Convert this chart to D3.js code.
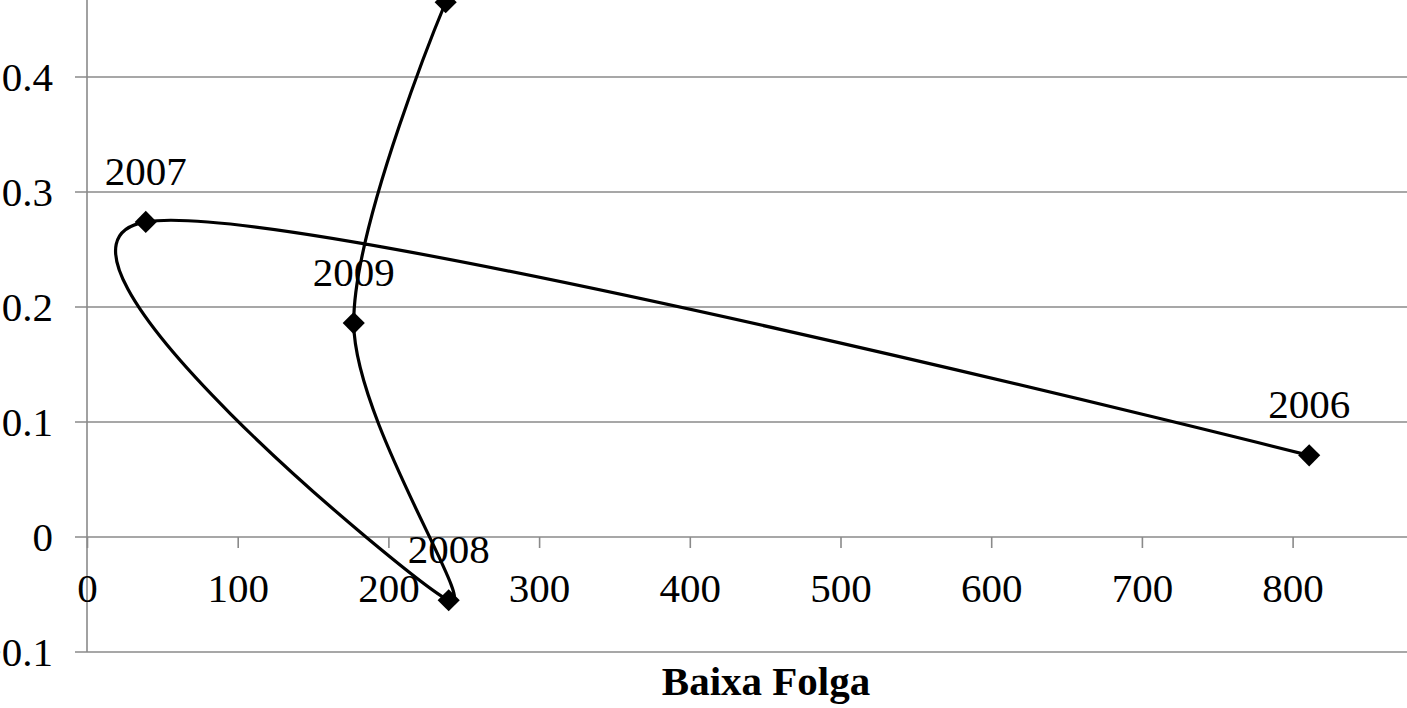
<!DOCTYPE html>
<head>
    <title>Baixa Folga</title>
    <script src="https://cdn.jsdelivr.net/npm/d3@7"></script>
    <style>
        body { margin: 0; background: #fff; }
        svg { display: block; }
    </style>
</head>
<body>

<div id="container"></div>

<script>

// Données
const years = ["2006", "2007", "2008", "2009", "2010"];
const folga = [811, 39, 240, 177, 238];
const valores = [0.071, 0.274, -0.055, 0.186, 0.465];
const yTicks = [-0.1, 0, 0.1, 0.2, 0.3, 0.4];
const xTicks = [0, 100, 200, 300, 400, 500, 600, 700, 800];

// Dimensions
const width = 1407;
const height = 708;
const axisX = 87;

const svg = d3.create("svg")
    .attr("width", width)
    .attr("height", height);

const x = d3.scaleLinear()
    .domain([0, 900])
    .range([axisX, axisX + 9 * 150.7]);

const y = d3.scaleLinear()
    .domain([-0.1, 0.5])
    .range([652, 652 - 0.6 * 1150]);

const gray = "#8a8a8a";
const font = "'Liberation Serif', 'Times New Roman', serif";

// Lignes de grille horizontales
svg.append("g")
    .selectAll("line")
    .data(yTicks)
    .join("line")
    .attr("x1", axisX - 12)
    .attr("x2", width)
    .attr("y1", d => y(d))
    .attr("y2", d => y(d))
    .attr("stroke", gray)
    .attr("stroke-width", 1.6);

// Axe vertical
svg.append("line")
    .attr("x1", axisX).attr("x2", axisX)
    .attr("y1", 0).attr("y2", y(-0.1))
    .attr("stroke", gray)
    .attr("stroke-width", 1.6);

// Labels Y (le signe moins sort du cadre comme sur l'original)
svg.append("g")
    .selectAll("text")
    .data(yTicks)
    .join("text")
    .attr("x", 53)
    .attr("y", d => y(d))
    .attr("dy", "0.35em")
    .attr("text-anchor", "end")
    .style("font-family", font)
    .style("font-size", "41px")
    .text(d => d3.format(".1~f")(d).replace("-", "\u2212"));

// Axe X à y = 0
const xAxis = svg.append("g")
    .attr("transform", `translate(0,${y(0)})`)
    .call(d3.axisBottom(x).tickValues(xTicks).tickSize(11).tickPadding(0).tickFormat(d3.format("d")));
xAxis.select(".domain").remove();
xAxis.selectAll(".tick line")
    .attr("stroke", gray)
    .attr("stroke-width", 1.6);
xAxis.selectAll(".tick text")
    .attr("y", 51)
    .attr("dy", "0.35em")
    .attr("fill", "#000")
    .style("font-family", font)
    .style("font-size", "41px");

// Courbe lissée
const pts = folga.map((d, i) => [x(d), y(valores[i])]);
svg.append("path")
    .attr("d", d3.line().curve(d3.curveCardinal.tension(0))(pts))
    .attr("fill", "none")
    .attr("stroke", "#000")
    .attr("stroke-width", 3.2);

// Marqueurs losange
svg.append("g")
    .selectAll("path")
    .data(pts)
    .join("path")
    .attr("d", d3.symbol(d3.symbolSquare, 245))
    .attr("transform", d => `translate(${d[0]},${d[1]}) rotate(45)`)
    .attr("fill", "#000");

// Étiquettes des années (celle qui sort du cadre en haut n'est pas visible)
svg.append("g")
    .selectAll("text")
    .data(pts.map((d, i) => ({ p: d, year: years[i] })).filter(d => d.p[1] - 37 > 30))
    .join("text")
    .attr("x", d => d.p[0])
    .attr("y", d => d.p[1] - 37)
    .attr("text-anchor", "middle")
    .style("font-family", font)
    .style("font-size", "41px")
    .text(d => d.year);

// Titre de l'axe
svg.append("text")
    .attr("x", 766)
    .attr("y", 695)
    .attr("text-anchor", "middle")
    .style("font-family", font)
    .style("font-size", "41px")
    .style("font-weight", "bold")
    .text("Baixa Folga");

container.append(svg.node());

</script>

</body>
